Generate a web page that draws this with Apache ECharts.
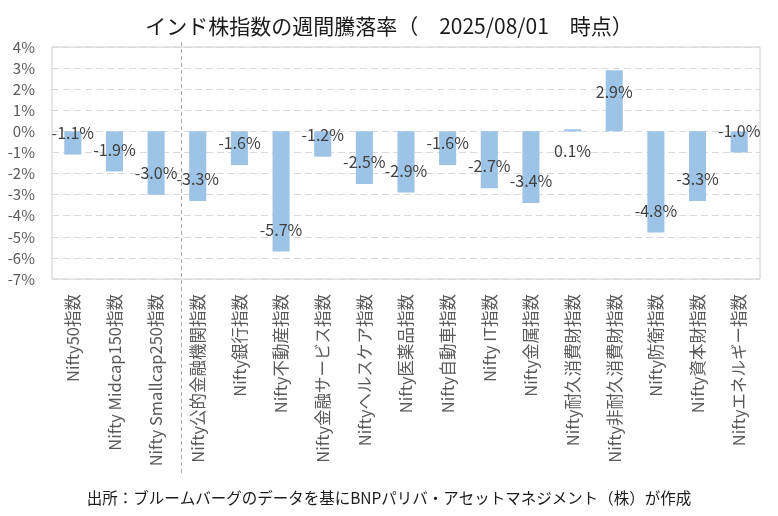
<!DOCTYPE html>
<html>
<head>
<meta charset="utf-8">
<title>インド株指数の週間騰落率</title>
<script src="https://cdn.jsdelivr.net/npm/echarts@6/dist/echarts.min.js"></script>
<style>
  html, body { margin: 0; padding: 0; background: #fff; }
  #chart_india { width: 778px; height: 516px; }
</style>
</head>
<body>
<div id="chart_india"></div>
<script>
/**********************************　インド株指数　***********************************/
var titleText = 'インド株指数の週間騰落率（　2025/08/01　時点）';
var sourceText = '出所：ブルームバーグのデータを基にBNPパリバ・アセットマネジメント（株）が作成';

var indexNames = [
    'Nifty50指数', 'Nifty Midcap150指数', 'Nifty Smallcap250指数', 'Nifty公的金融機関指数',
    'Nifty銀行指数', 'Nifty不動産指数', 'Nifty金融サービス指数', 'Niftyヘルスケア指数',
    'Nifty医薬品指数', 'Nifty自動車指数', 'Nifty IT指数', 'Nifty金属指数',
    'Nifty耐久消費財指数', 'Nifty非耐久消費財指数', 'Nifty防衛指数', 'Nifty資本財指数',
    'Niftyエネルギー指数'
];
var weeklyChange = [-1.1, -1.9, -3.0, -3.3, -1.6, -5.7, -1.2, -2.5, -2.9, -1.6, -2.7, -3.4, 0.1, 2.9, -4.8, -3.3, -1.0];
var yTicks = {min: -7, max: 4, step: 1};

var FONT = '"Noto Sans CJK JP", "Noto Sans", sans-serif';

// ラベルはバーの先端の内側に表示（Excelの「内側軸寄り」っぽく）
var barData = weeklyChange.map(function (v) {
    return {
        value: v,
        label: {position: v < 0 ? 'insideBottom' : 'insideTop'}
    };
});

var chart_india = echarts.init(document.getElementById('chart_india'));
var option_india = {
    animation: false,
    title: [
        {
            text: titleText,
            left: 'center',
            top: 11,
            textStyle: {fontFamily: FONT, fontSize: 21, fontWeight: 'normal', color: '#1a1a1a'}
        },
        {
            text: sourceText,
            left: 'center',
            top: 485,
            textStyle: {fontFamily: FONT, fontSize: 15.5, fontWeight: 'normal', color: '#1a1a1a'}
        }
    ],
    grid: {
        left: 52,
        right: 18,
        top: 47,
        bottom: 237,
        show: true,
        borderColor: '#cccccc',
        borderWidth: 1
    },
    xAxis: {
        type: 'category',
        data: indexNames,
        axisLine: {show: false, onZero: false},
        axisTick: {show: false},
        axisLabel: {
            rotate: 90,
            interval: 0,
            margin: 15,
            color: '#595959',
            fontFamily: FONT,
            fontSize: 16.5
        }
    },
    yAxis: {
        type: 'value',
        min: yTicks.min,
        max: yTicks.max,
        interval: yTicks.step,
        axisLine: {show: false},
        axisTick: {show: false},
        axisLabel: {
            formatter: '{value}%',
            margin: 17,
            color: '#595959',
            fontFamily: FONT,
            fontSize: 15
        },
        splitLine: {
            show: true,
            lineStyle: {color: '#d9d9d9', type: [7, 4], width: 1}
        }
    },
    series: [
        {
            type: 'bar',
            data: barData,
            barWidth: '41%',
            itemStyle: {color: '#9dc3e6'},
            label: {
                show: true,
                distance: 14,
                color: '#404040',
                fontFamily: FONT,
                fontSize: 16,
                formatter: function (p) {
                    return p.value.toFixed(1) + '%';
                }
            }
        }
    ]
};
chart_india.setOption(option_india);

// 主要指数とセクター指数の間の区切り線（点線）
function drawSeparator() {
    var x2 = chart_india.convertToPixel({xAxisIndex: 0}, indexNames[2]);
    var x3 = chart_india.convertToPixel({xAxisIndex: 0}, indexNames[3]);
    var sx = Math.round(x2 + (x3 - x2) * 0.6) + 0.5;
    chart_india.setOption({
        graphic: [{
            type: 'line',
            silent: true,
            shape: {x1: sx, y1: 42, x2: sx, y2: 476},
            style: {stroke: '#a6a6a6', lineWidth: 1, lineDash: [4, 3]},
            z: 10
        }]
    });
}
drawSeparator();

window.addEventListener('resize', function () {
    chart_india.resize();
    drawSeparator();
});
</script>
</body>
</html>
